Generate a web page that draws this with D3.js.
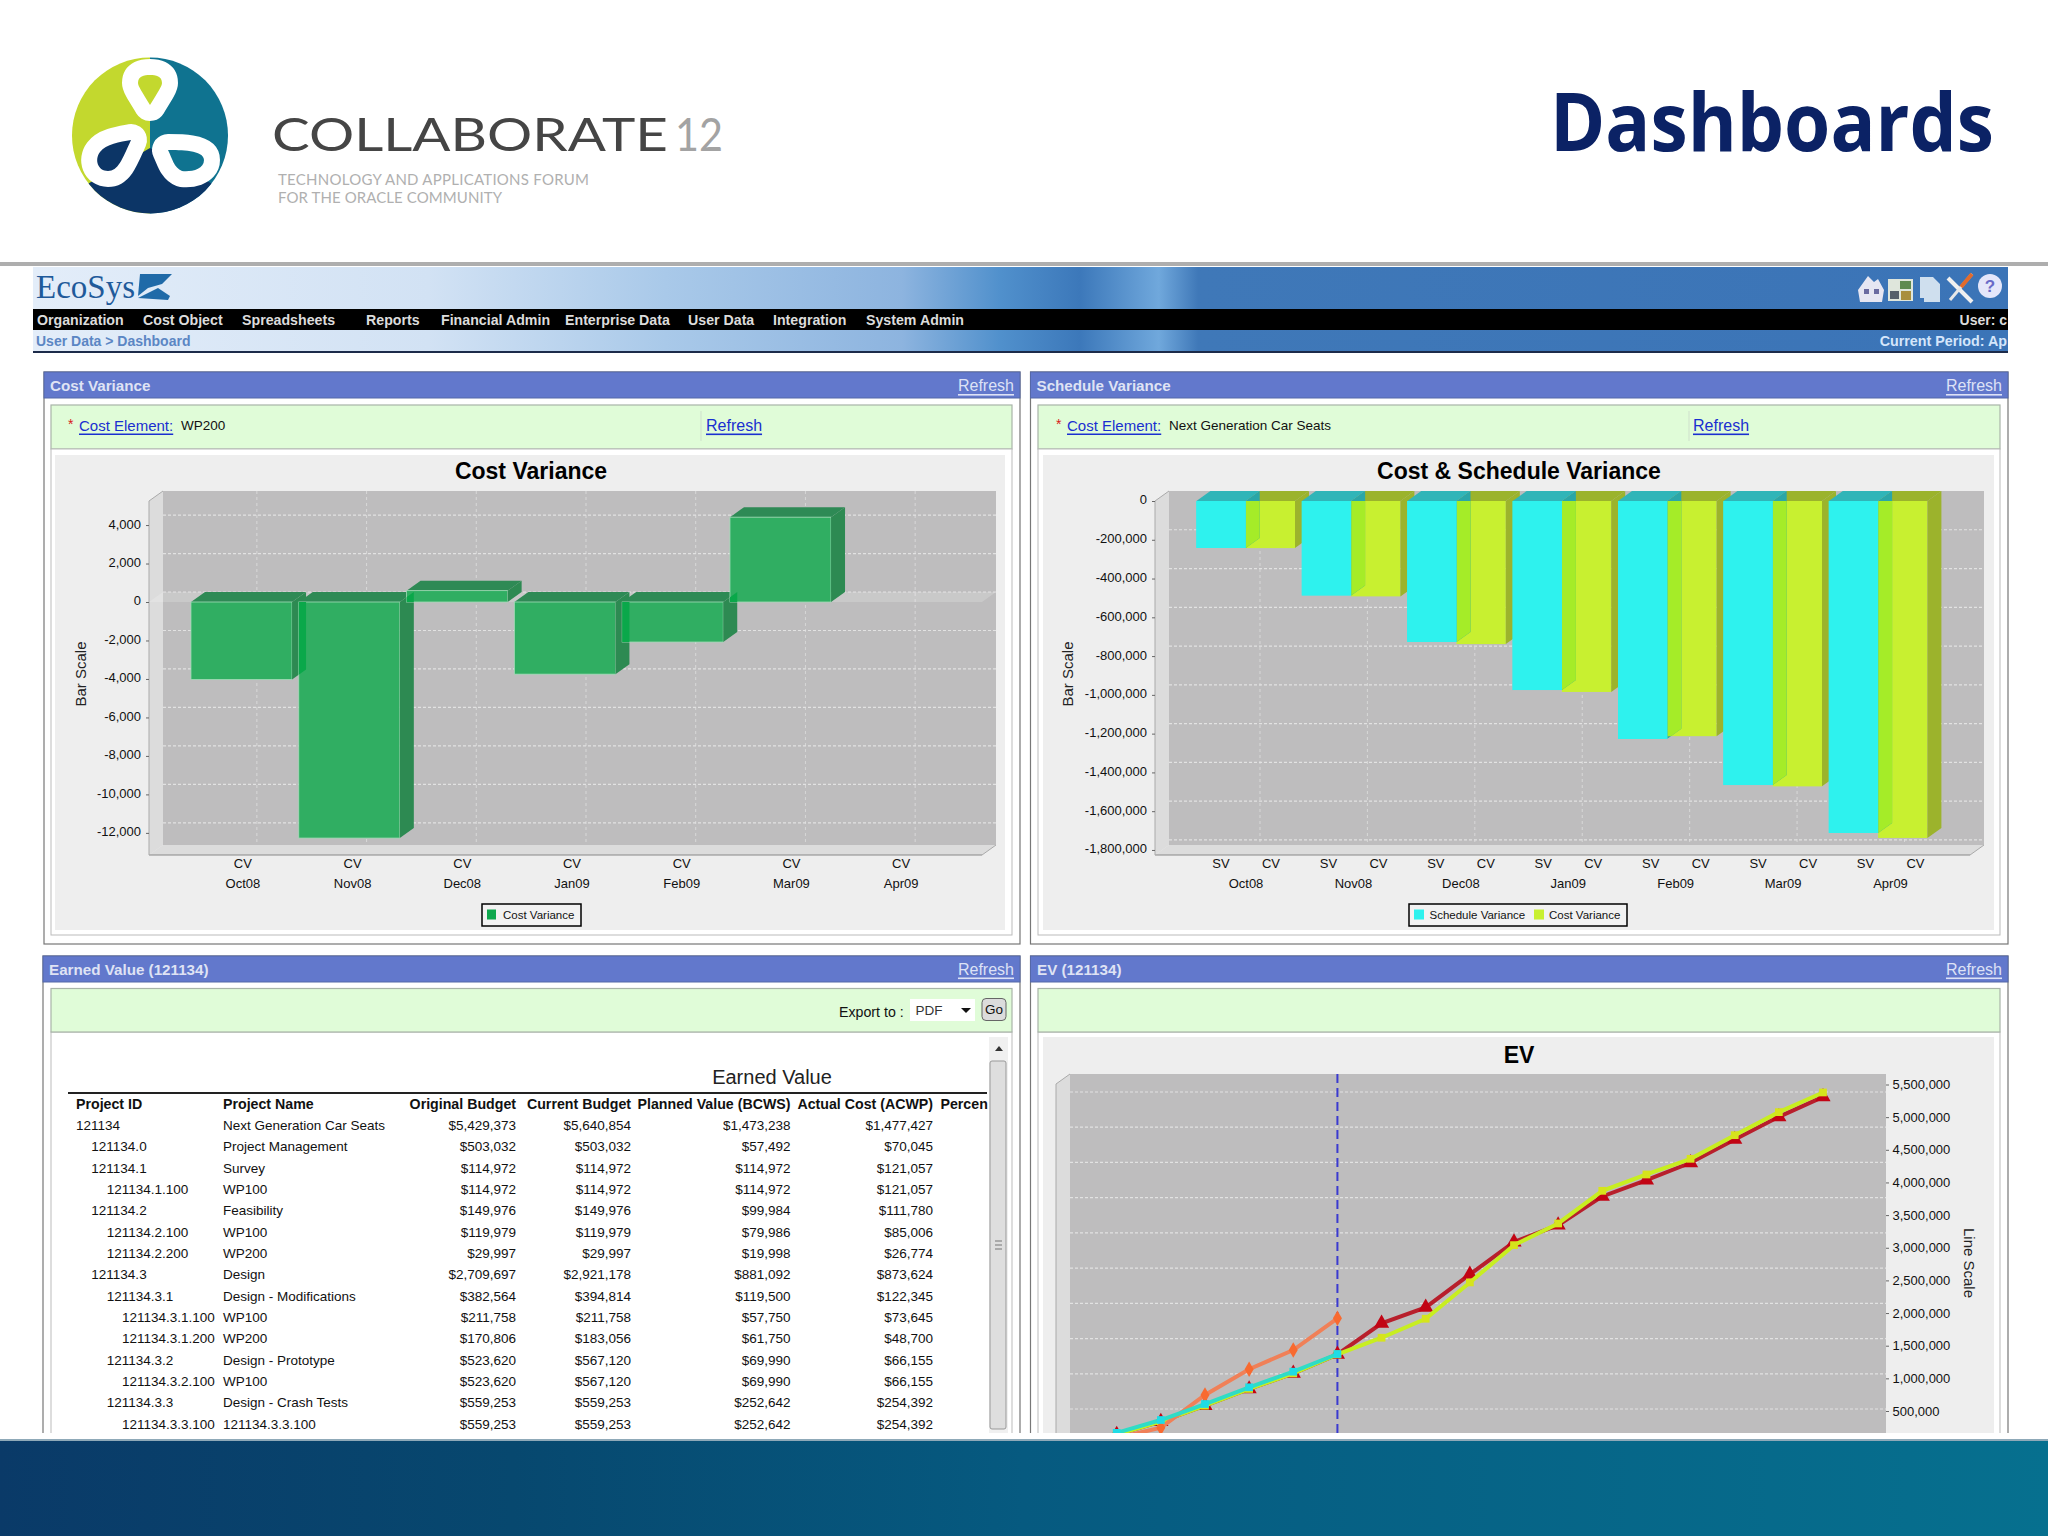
<!DOCTYPE html>
<html>
<head>
<meta charset="utf-8">
<title>Dashboards</title>
<script src="https://cdn.jsdelivr.net/npm/d3@7"></script>
<style>
  body { margin: 0; background: #fff; }
  svg { display: block; }
  text { font-family: "Liberation Sans", Arial, sans-serif; }
</style>
</head>
<body>
<svg id="page" width="2048" height="1536"></svg>
<script>
"use strict";

// DATA
const months = ["Oct08", "Nov08", "Dec08", "Jan09", "Feb09", "Mar09", "Apr09"];
const costVariance = [-4030, -12270, 590, -3750, -2080, 4410, 0];
const costTicks = [4000, 2000, 0, -2000, -4000, -6000, -8000, -10000, -12000];

const scheduleSV = [-242000, -487000, -727000, -975000, -1227000, -1465000, -1712000];
const scheduleCV = [-243000, -492000, -738000, -985000, -1213000, -1472000, -1738000];
const scheduleTicks = [0, -200000, -400000, -600000, -800000, -1000000, -1200000, -1400000, -1600000, -1800000];
const subLabels = ["SV", "CV"];

const evPeriods = ["1", "2", "3", "4", "5", "6", "7", "8", "9", "10", "11", "12", "13", "14", "15", "16", "17"];
const evYellow = [140000, 337000, 582000, 838000, 1077000, 1367000, 1622000, 1913000, 2469000, 3040000, 3372000, 3872000, 4122000, 4362000, 4724000, 5077000, 5378000];
const evRed = [140000, 337000, 582000, 838000, 1077000, 1367000, 1842000, 2087000, 2592000, 3087000, 3347000, 3786000, 4036000, 4301000, 4658000, 5005000, 5311000];
const evOrange = [87000, 244000, 745000, 1139000, 1434000, 1920000];
const evCyan = [165000, 362000, 607000, 863000, 1102000, 1373000];
const evTicks = [5500000, 5000000, 4500000, 4000000, 3500000, 3000000, 2500000, 2000000, 1500000, 1000000, 500000];
const evGridRows = [0, 1, 2, 3, 4, 5, 6, 7, 8, 9];
const currentPeriod = "6";

const tableHeaders = ["Project ID", "Project Name", "Original Budget", "Current Budget", "Planned Value (BCWS)", "Actual Cost (ACWP)", "Percen"];
const projectIds = ["121134", "121134.0", "121134.1", "121134.1.100", "121134.2", "121134.2.100", "121134.2.200", "121134.3", "121134.3.1", "121134.3.1.100", "121134.3.1.200", "121134.3.2", "121134.3.2.100", "121134.3.3", "121134.3.3.100"];
const projectLevels = [0, 1, 1, 2, 1, 2, 2, 1, 2, 3, 3, 2, 3, 2, 3];
const projectNames = ["Next Generation Car Seats", "Project Management", "Survey", "WP100", "Feasibility", "WP100", "WP200", "Design", "Design - Modifications", "WP100", "WP200", "Design - Prototype", "WP100", "Design - Crash Tests", "121134.3.3.100"];
const originalBudget = ["$5,429,373", "$503,032", "$114,972", "$114,972", "$149,976", "$119,979", "$29,997", "$2,709,697", "$382,564", "$211,758", "$170,806", "$523,620", "$523,620", "$559,253", "$559,253"];
const currentBudget = ["$5,640,854", "$503,032", "$114,972", "$114,972", "$149,976", "$119,979", "$29,997", "$2,921,178", "$394,814", "$211,758", "$183,056", "$567,120", "$567,120", "$559,253", "$559,253"];
const plannedValue = ["$1,473,238", "$57,492", "$114,972", "$114,972", "$99,984", "$79,986", "$19,998", "$881,092", "$119,500", "$57,750", "$61,750", "$69,990", "$69,990", "$252,642", "$252,642"];
const actualCost = ["$1,477,427", "$70,045", "$121,057", "$121,057", "$111,780", "$85,006", "$26,774", "$873,624", "$122,345", "$73,645", "$48,700", "$66,155", "$66,155", "$254,392", "$254,392"];

const menuItems = ["Organization", "Cost Object", "Spreadsheets", "Reports", "Financial Admin", "Enterprise Data", "User Data", "Integration", "System Admin"];
const menuX = [37, 143, 242, 366, 441, 565, 688, 773, 866];

const depth = { dx: 14, dy: 10 };
const signed = (d) => d3.format(",")(d).replace("\u2212", "-");

const svg = d3.select("#page");
const defs = svg.append("defs");

function gradient(id, stops) {
  const g = defs.append("linearGradient").attr("id", id);
  stops.forEach((s) => g.append("stop").attr("offset", s[0]).attr("stop-color", s[1]));
}
gradient("bandFill", [[0, "#e3edf9"], [0.2, "#d2e2f4"], [0.32, "#a9c9e9"], [0.44, "#8db4df"], [0.49, "#5090cc"], [0.53, "#3c78ba"], [0.57, "#70a8dc"], [0.59, "#3f78b8"], [1, "#3b74b7"]]);
gradient("footerFill", [[0, "#0a3a68"], [0.25, "#07486f"], [0.5, "#065a80"], [1, "#06708f"]]);

function txt(parent, x, y, str, opts = {}) {
  const t = parent
    .append("text")
    .attr("x", x)
    .attr("y", y)
    .attr("font-size", opts.size || 13)
    .attr("font-weight", opts.weight || "normal")
    .attr("fill", opts.fill || "#111")
    .attr("text-anchor", opts.anchor || "start")
    .attr("dominant-baseline", "central")
    .text(str);
  if (opts.underline) t.attr("text-decoration", "underline");
  return t;
}

function poly(parent, pts, fill) {
  return parent.append("polygon").attr("points", pts.map((p) => p.join(",")).join(" ")).attr("fill", fill);
}

// SLIDE HEADER
function drawLogo() {
  const g = svg.append("g");
  defs.append("clipPath").attr("id", "logoClip")
    .append("ellipse").attr("cx", 150).attr("cy", 135.5).attr("rx", 78).attr("ry", 78);
  const c = g.append("g").attr("clip-path", "url(#logoClip)");
  c.append("rect").attr("x", 60).attr("y", 50).attr("width", 90).attr("height", 170).attr("fill", "#c3d82e");
  c.append("rect").attr("x", 150).attr("y", 50).attr("width", 90).attr("height", 170).attr("fill", "#0f7390");
  poly(c, [[150, 148], [60, 200], [60, 220], [240, 220], [240, 200]], "#0c3566");
  const loop = (d) =>
    c.append("path").attr("d", d).attr("fill", "#fff").attr("stroke", "#fff").attr("stroke-width", 32).attr("stroke-linejoin", "round");
  const inner = (d, fill) => c.append("path").attr("d", d).attr("fill", fill);
  const top = "M150,105 C142,92 138,86 138,83 C138,76 144,75 150,75 C156,75 162,76 162,83 C162,86 158,92 150,105 Z";
  const left = "M131,140 C122,160 118,171 108,171 C98,171 94,160 100,152 C106,144 120,142 131,140 Z";
  const right = "M168,150 C180,150 204,150 204,160 C204,170 190,172 182,171 C174,168 172,158 168,150 Z";
  loop(top);
  loop(left);
  loop(right);
  inner(top, "#c3d82e");
  inner(left, "#0c3566");
  inner(right, "#0f7390");
  txt(g, 272, 133, "COLLABORATE", { size: 47, fill: "#454545" })
    .style("font-family", "Lato")
    .attr("textLength", 396)
    .attr("lengthAdjust", "spacingAndGlyphs");
  txt(g, 675, 133, "12", { size: 47, fill: "#a3a3a3" })
    .style("font-family", "Lato")
    .attr("textLength", 48)
    .attr("lengthAdjust", "spacingAndGlyphs");
  txt(g, 278, 179, "TECHNOLOGY AND APPLICATIONS FORUM", { size: 15, fill: "#b0b0b0" })
    .style("font-family", "Lato")
    .attr("textLength", 311);
  txt(g, 278, 197, "FOR THE ORACLE COMMUNITY", { size: 15, fill: "#b0b0b0" })
    .style("font-family", "Lato")
    .attr("textLength", 224);
}
drawLogo();

svg.append("text")
  .attr("x", 1550)
  .attr("y", 151)
  .attr("font-size", 81)
  .attr("font-weight", "bold")
  .attr("fill", "#0b2265")
  .attr("textLength", 444)
  .attr("lengthAdjust", "spacingAndGlyphs")
  .style("font-family", "'Open Sans'")
  .text("Dashboards");

svg.append("rect").attr("x", 0).attr("y", 262).attr("width", 2048).attr("height", 4).attr("fill", "#aeaeae");

// APP BANNER
const banner = svg.append("g");
banner.append("rect").attr("x", 33).attr("y", 267).attr("width", 1975).attr("height", 85).attr("fill", "url(#bandFill)");
banner.append("rect").attr("x", 33).attr("y", 309).attr("width", 1975).attr("height", 21).attr("fill", "#000");
banner.append("rect").attr("x", 33).attr("y", 351).attr("width", 1975).attr("height", 2).attr("fill", "#1c2b4a");
txt(banner, 36, 287, "EcoSys", { size: 33, fill: "#1f5a9a" }).style("font-family", "'Liberation Serif'");
poly(banner, [[140, 274], [172, 274], [162, 284], [148, 288], [138, 296]], "#1f6aa8");
poly(banner, [[138, 298], [158, 288], [170, 296], [168, 300]], "#1f6aa8");
menuItems.forEach((m, i) => txt(banner, menuX[i], 320, m, { size: 14.2, weight: "bold", fill: "#dcdcdc" }));
txt(banner, 36, 341, "User Data > Dashboard", { size: 14, weight: "bold", fill: "#5b86c4" });

// these two are cut short in the screenshot itself
txt(banner, 2007, 320, "User: c", { size: 14, weight: "bold", fill: "#dcdcdc", anchor: "end" });
txt(banner, 2007, 341, "Current Period: Ap", { size: 14.3, weight: "bold", fill: "#d4e6fb", anchor: "end" });

// toolbar icons
poly(banner, [[1858, 290], [1868, 276], [1874, 282], [1878, 279], [1884, 290], [1882, 302], [1860, 302]], "#e6e6f2");
banner.append("rect").attr("x", 1864).attr("y", 289).attr("width", 5).attr("height", 5).attr("fill", "#6a6aa0");
banner.append("rect").attr("x", 1874).attr("y", 289).attr("width", 5).attr("height", 5).attr("fill", "#6a6aa0");
banner.append("rect").attr("x", 1888).attr("y", 279).attr("width", 25).attr("height", 22).attr("fill", "#dfe6dc");
banner.append("rect").attr("x", 1900).attr("y", 281).attr("width", 11).attr("height", 8).attr("fill", "#5f8a50");
banner.append("rect").attr("x", 1901).attr("y", 291).attr("width", 10).attr("height", 9).attr("fill", "#a98f3e");
banner.append("rect").attr("x", 1890).attr("y", 291).attr("width", 9).attr("height", 8).attr("fill", "#55606a");
poly(banner, [[1920, 277], [1933, 277], [1940, 284], [1940, 302], [1924, 302], [1924, 298], [1920, 298]], "#cfdfee");
banner.append("line").attr("x1", 1948).attr("y1", 278).attr("x2", 1972).attr("y2", 302).attr("stroke", "#f0f0f0").attr("stroke-width", 4);
banner.append("line").attr("x1", 1972).attr("y1", 274).attr("x2", 1950).attr("y2", 300).attr("stroke", "#e8e8e8").attr("stroke-width", 3);
banner.append("line").attr("x1", 1972).attr("y1", 274).attr("x2", 1961).attr("y2", 287).attr("stroke", "#e26b2c").attr("stroke-width", 4);
banner.append("circle").attr("cx", 1990).attr("cy", 286).attr("r", 12).attr("fill", "#e4e6fa");
txt(banner, 1990, 286, "?", { size: 17, weight: "bold", fill: "#6a6ac8", anchor: "middle" });

// PANELS
const panelFill = "#6278cc";
const headFont = { size: 15.2, weight: "bold", fill: "#dfe3f4" };
const refreshFont = { size: 16, fill: "#dde2f6", anchor: "end", underline: true };

function drawPanel(x, y, w, h, title) {
  const g = svg.append("g");
  g.append("rect").attr("x", x).attr("y", y).attr("width", w).attr("height", h).attr("fill", "#fff").attr("stroke", "#777").attr("stroke-width", 1.2);
  g.append("rect").attr("x", x).attr("y", y).attr("width", w).attr("height", 26).attr("fill", panelFill).attr("stroke", "#5568a8");
  txt(g, x + 6, y + 13.5, title, headFont);
  txt(g, x + w - 6, y + 13.5, "Refresh", refreshFont);
  return g;
}

function drawGreenBox(g, x, y, w, h) {
  g.append("rect").attr("x", x).attr("y", y).attr("width", w).attr("height", h).attr("fill", "#e0fcd8").attr("stroke", "#a8b4a8").attr("stroke-width", 1.2);
}

function drawFilter(g, x, sepX, refreshX, value) {
  txt(g, x, 424, "*", { size: 14, fill: "#d81818" });
  txt(g, x + 11, 425, "Cost Element:", { size: 15, fill: "#1a2fd0", underline: true });
  txt(g, x + 113, 425.5, value, { size: 13.5, fill: "#111" });
  g.append("line").attr("x1", sepX).attr("x2", sepX).attr("y1", 411).attr("y2", 441).attr("stroke", "#cfe0cc");
  txt(g, refreshX, 425, "Refresh", { size: 16, fill: "#1a2fd0", underline: true });
}

// 3D back wall, floor and side wall around the plot area
function drawWalls(g, x0, x1, yTop, yBot, floor = true) {
  const { dx, dy } = depth;
  g.append("rect").attr("x", x0 + dx).attr("y", yTop).attr("width", x1 - x0 - dx).attr("height", yBot - yTop - dy).attr("fill", "#bebdbe");
  poly(g, [[x0, yTop + dy], [x0 + dx, yTop], [x0 + dx, yBot - dy], [x0, yBot]], "#dcdcdc");
  if (floor) {
    poly(g, [[x0, yBot], [x0 + dx, yBot - dy], [x1, yBot - dy], [x1 - dx, yBot]], "#dcdcdc");
    g.append("line").attr("x1", x0).attr("x2", x1 - dx).attr("y1", yBot).attr("y2", yBot).attr("stroke", "#888");
    g.append("line").attr("x1", x1 - dx).attr("x2", x1).attr("y1", yBot).attr("y2", yBot - dy).attr("stroke", "#aaa");
  }
  g.append("line").attr("x1", x0).attr("x2", x0).attr("y1", yTop + dy).attr("y2", yBot).attr("stroke", "#aaa");
  g.append("line").attr("x1", x0).attr("x2", x0 + dx).attr("y1", yTop + dy).attr("y2", yTop).attr("stroke", "#aaa");
}

function gridLines(g, xs, ys, x0, x1, yTop, yBot) {
  g.selectAll(null).data(xs).enter().append("line")
    .attr("x1", (d) => d).attr("x2", (d) => d)
    .attr("y1", yTop).attr("y2", yBot)
    .attr("stroke", "#d8d8d8").attr("stroke-dasharray", "3,3");
  g.selectAll(null).data(ys).enter().append("line")
    .attr("x1", x0).attr("x2", x1)
    .attr("y1", (d) => d).attr("y2", (d) => d)
    .attr("stroke", "#e2e2e2").attr("stroke-width", 1.2).attr("stroke-dasharray", "3,2");
}

function styleAxis(sel, lift = 1.2) {
  sel.select(".domain").remove();
  sel.selectAll("text")
    .attr("font-size", 13)
    .attr("fill", "#111")
    .attr("transform", `translate(0,${-lift})`)
    .style("font-family", "'Liberation Sans'");
  sel.selectAll(".tick line").attr("stroke", "#666");
}

function drawBar(g, x, w, yA, yB, colors) {
  const { dx, dy } = depth;
  const top = Math.min(yA, yB);
  const bot = Math.max(yA, yB);
  poly(g, [[x, top], [x + dx, top - dy], [x + w + dx, top - dy], [x + w, top]], colors.top);
  g.append("rect").attr("x", x).attr("y", top).attr("width", w).attr("height", bot - top)
    .attr("fill", colors.front).attr("stroke", colors.edge || "none").attr("stroke-width", 0.8);
  poly(g, sidePoints(x, w, top, bot), colors.side);
}

function sidePoints(x, w, top, bot) {
  const { dx, dy } = depth;
  return [[x + w, top], [x + w + dx, top - dy], [x + w + dx, bot - dy], [x + w, bot]];
}

// a side face seen through the front of the neighbouring bar
function drawOverlap(g, id, prev, next, color) {
  defs.append("clipPath").attr("id", id)
    .append("rect").attr("x", next.x).attr("y", next.top).attr("width", next.w).attr("height", next.bot - next.top);
  poly(g, sidePoints(prev.x, prev.w, prev.top, prev.bot), color).attr("clip-path", `url(#${id})`);
}

function drawLegend(g, x, y, w, h, items) {
  g.append("rect").attr("x", x).attr("y", y).attr("width", w).attr("height", h).attr("fill", "#f2f2f2").attr("stroke", "#000").attr("stroke-width", 1.5);
  items.forEach((it) => {
    g.append("rect").attr("x", it.x).attr("y", y + 5.5).attr("width", it.w).attr("height", 10).attr("fill", it.color);
    txt(g, it.tx, y + 11, it.label, { size: 11.5, fill: "#111" });
  });
}

function axisTitle(g, x, y, str, angle) {
  g.append("text")
    .attr("transform", `translate(${x},${y}) rotate(${angle})`)
    .attr("text-anchor", "middle")
    .attr("dominant-baseline", "central")
    .attr("font-size", 15)
    .attr("fill", "#222")
    .text(str);
}

// COST VARIANCE
function costChart() {
  const g = drawPanel(44, 372, 976, 572, "Cost Variance");
  drawGreenBox(g, 51, 405, 961, 44);
  drawFilter(g, 68, 701, 706, "WP200");
  g.append("rect").attr("x", 51).attr("y", 449).attr("width", 961).attr("height", 486).attr("fill", "#fff").attr("stroke", "#bbb");
  g.append("rect").attr("x", 55).attr("y", 455).attr("width", 950).attr("height", 475).attr("fill", "#eeeeee");
  txt(g, 531, 471, "Cost Variance", { size: 23, weight: "bold", fill: "#000", anchor: "middle" });

  const x0 = 149, x1 = 996, yTop = 491, yBot = 855;
  const yScale = d3.scaleLinear().domain([-13150, 5250]).range([yBot, yTop + depth.dy]);
  const xLabel = d3.scaleBand().domain(months).range([188, 956]);
  const xBar = d3.scaleBand().domain(months).range([187.6, 942.2]).paddingInner(0.0625).paddingOuter(0.03125);

  drawWalls(g, x0, x1, yTop, yBot);
  gridLines(g, months.map((m) => xLabel(m) + xLabel.bandwidth() / 2 + depth.dx), costTicks.map((t) => yScale(t) - depth.dy), x0 + depth.dx, x1, yTop, yBot - depth.dy);
  poly(g, [[x0, yScale(0)], [x0 + depth.dx, yScale(0) - depth.dy], [x1, yScale(0) - depth.dy], [x1 - depth.dx, yScale(0)]], "#fff").attr("opacity", 0.18);

  const colors = { front: "#30ae62", side: "#2d8a52", top: "#2e8a55", edge: "#a4dcb8" };
  const bars = months
    .map((m, i) => ({ m, v: costVariance[i] }))
    .filter((d) => d.v !== 0)
    .map((d) => ({
      x: xBar(d.m),
      w: xBar.bandwidth(),
      top: Math.min(yScale(d.v), yScale(0)),
      bot: Math.max(yScale(d.v), yScale(0)),
    }));
  const barG = g.append("g");
  bars.forEach((b) => drawBar(barG, b.x, b.w, b.top, b.bot, colors));
  bars.forEach((b, i) => {
    if (i > 0) drawOverlap(barG, `costOverlap${i}`, bars[i - 1], b, "#0aa84a");
  });

  g.append("g")
    .attr("transform", `translate(${x0},0)`)
    .call(d3.axisLeft(yScale).tickValues(costTicks).tickFormat(signed).tickSize(3).tickPadding(5))
    .call(styleAxis);
  g.append("g")
    .attr("transform", `translate(0,${yBot})`)
    .call(d3.axisBottom(xLabel).tickFormat(() => "CV").tickSize(0).tickPadding(4.5))
    .call(styleAxis);
  g.append("g")
    .attr("transform", `translate(0,${yBot})`)
    .call(d3.axisBottom(xLabel).tickSize(0).tickPadding(24.5))
    .call(styleAxis);

  axisTitle(g, 80, 674, "Bar Scale", -90);
  drawLegend(g, 482, 904, 99, 22, [{ x: 487, w: 9, color: "#0fa84e", tx: 503, label: "Cost Variance" }]);
}
costChart();

// SCHEDULE VARIANCE
function scheduleChart() {
  const g = drawPanel(1030.5, 372, 977.5, 572, "Schedule Variance");
  drawGreenBox(g, 1038, 405, 962, 44);
  drawFilter(g, 1056, 1689, 1693, "Next Generation Car Seats");
  g.append("rect").attr("x", 1038).attr("y", 449).attr("width", 962).attr("height", 486).attr("fill", "#fff").attr("stroke", "#bbb");
  g.append("rect").attr("x", 1043).attr("y", 455).attr("width", 951).attr("height", 475).attr("fill", "#eeeeee");
  txt(g, 1519, 471, "Cost & Schedule Variance", { size: 23, weight: "bold", fill: "#000", anchor: "middle" });

  const x0 = 1155, x1 = 1984, yTop = 491, yBot = 855;
  const yScale = d3.scaleLinear().domain([-1826000, 0]).range([yBot, yTop + depth.dy]);
  const xLabel = d3.scaleBand().domain(months).range([1192.3, 1944.2]);
  const xGroup = d3.scaleBand().domain(months).range([1193, 1930.8]).paddingInner(0.0645).paddingOuter(0.03225);
  const xSub = d3.scaleBand().domain(subLabels).range([0, xGroup.bandwidth()]);
  const xSubLabel = d3.scaleBand().domain(subLabels).range([-50, 50]);

  drawWalls(g, x0, x1, yTop, yBot);
  gridLines(g, months.map((m) => xLabel(m) + xLabel.bandwidth() / 2 + depth.dx), scheduleTicks.slice(1).map((t) => yScale(t) - depth.dy), x0 + depth.dx, x1, yTop, yBot - depth.dy);

  const svColors = { front: "#2ef2ee", side: "#2aa6a8", top: "#30b5b8" };
  const cvColors = { front: "#c8f030", side: "#9cb32c", top: "#9bb32c" };
  const barG = g.append("g");
  months.forEach((m, i) => {
    const sv = { x: xGroup(m) + xSub("SV"), w: xSub.bandwidth(), top: yScale(0), bot: yScale(scheduleSV[i]) };
    const cv = { x: xGroup(m) + xSub("CV"), w: xSub.bandwidth(), top: yScale(0), bot: yScale(scheduleCV[i]) };
    drawBar(barG, cv.x, cv.w, cv.top, cv.bot, cvColors);
    drawBar(barG, sv.x, sv.w, sv.top, sv.bot, svColors);
    drawOverlap(barG, `schedOverlap${i}`, sv, cv, "#a5ec28");
  });
  // the cyan fronts sit over the side of the previous month
  months.forEach((m, i) => {
    barG.append("rect")
      .attr("x", xGroup(m) + xSub("SV"))
      .attr("y", yScale(0))
      .attr("width", xSub.bandwidth())
      .attr("height", yScale(scheduleSV[i]) - yScale(0))
      .attr("fill", svColors.front);
  });

  g.append("g")
    .attr("transform", `translate(${x0},0)`)
    .call(d3.axisLeft(yScale).tickValues(scheduleTicks).tickFormat(signed).tickSize(3).tickPadding(5))
    .call(styleAxis);
  months.forEach((m) => {
    g.append("g")
      .attr("transform", `translate(${xLabel(m) + xLabel.bandwidth() / 2},${yBot})`)
      .call(d3.axisBottom(xSubLabel).tickSize(0).tickPadding(4.5))
      .call(styleAxis);
  });
  g.append("g")
    .attr("transform", `translate(0,${yBot})`)
    .call(d3.axisBottom(xLabel).tickSize(0).tickPadding(24.5))
    .call(styleAxis);

  axisTitle(g, 1067, 674, "Bar Scale", -90);
  drawLegend(g, 1409, 904, 218, 22, [
    { x: 1414, w: 10, color: "#2ef2ee", tx: 1429.5, label: "Schedule Variance" },
    { x: 1534, w: 10, color: "#c8f030", tx: 1549, label: "Cost Variance" },
  ]);
}
scheduleChart();

// LOWER ROW, cut off by the slide footer
defs.append("clipPath").attr("id", "lowerClip")
  .append("rect").attr("x", 0).attr("y", 950).attr("width", 2048).attr("height", 483);

// EARNED VALUE TABLE
function earnedValueTable() {
  const root = svg.append("g").attr("clip-path", "url(#lowerClip)");
  const g = root.append("g");
  g.append("rect").attr("x", 43).attr("y", 956).attr("width", 977).attr("height", 600).attr("fill", "#fff").attr("stroke", "#777").attr("stroke-width", 1.2);
  g.append("rect").attr("x", 43).attr("y", 956).attr("width", 977).attr("height", 26).attr("fill", panelFill).attr("stroke", "#5568a8");
  txt(g, 49, 969, "Earned Value (121134)", headFont);
  txt(g, 1014, 969, "Refresh", refreshFont);
  g.append("rect").attr("x", 51).attr("y", 1032).attr("width", 961).attr("height", 500).attr("fill", "#fff").attr("stroke", "#bbb");
  drawGreenBox(g, 51, 988.5, 961, 43.5);
  txt(g, 839, 1012, "Export to :", { size: 14.2 });
  g.append("rect").attr("x", 910).attr("y", 999).attr("width", 65).attr("height", 22).attr("fill", "#fff");
  txt(g, 915.5, 1010, "PDF", { size: 13.5, fill: "#333" });
  poly(g, [[961, 1008], [971, 1008], [966, 1013]], "#111");
  g.append("rect").attr("x", 982).attr("y", 998.5).attr("width", 24).attr("height", 22).attr("rx", 4).attr("fill", "#dcdcdc").attr("stroke", "#666");
  txt(g, 994, 1009.5, "Go", { size: 13.5, fill: "#111", anchor: "middle" });

  txt(g, 772, 1077, "Earned Value", { size: 20, fill: "#222", anchor: "middle" });
  g.append("rect").attr("x", 68).attr("y", 1092).attr("width", 919).attr("height", 2).attr("fill", "#222");

  const table = g.append("g");
  const yRow = d3.scaleLinear().domain([0, 1]).range([1125.5, 1146.83]);
  const indent = d3.scaleLinear().domain([0, 3]).range([76, 122]);
  const rightCols = [
    { x: 516, values: originalBudget },
    { x: 631, values: currentBudget },
    { x: 790.5, values: plannedValue },
    { x: 933, values: actualCost },
  ];
  const colHead = { size: 14.2, weight: "bold", fill: "#111" };
  txt(table, 76, 1104, tableHeaders[0], colHead);
  txt(table, 223, 1104, tableHeaders[1], colHead);
  rightCols.forEach((c, i) => txt(table, c.x, 1104, tableHeaders[i + 2], { ...colHead, anchor: "end" }));
  txt(table, 940.5, 1104, tableHeaders[6], colHead);

  projectIds.forEach((id, i) => {
    const y = yRow(i);
    txt(table, indent(projectLevels[i]), y, id, { size: 13.5 });
    txt(table, 223, y, projectNames[i], { size: 13.5 });
    rightCols.forEach((c) => txt(table, c.x, y, c.values[i], { size: 13.5, anchor: "end" }));
  });

  // scrollbar
  g.append("rect").attr("x", 989).attr("y", 1037).attr("width", 19).attr("height", 400).attr("fill", "#f0f0f0");
  poly(g, [[995, 1051], [1003, 1051], [999, 1046]], "#333");
  g.append("rect").attr("x", 990).attr("y", 1061).attr("width", 16).attr("height", 368).attr("rx", 2).attr("fill", "#dedede").attr("stroke", "#999");
  [1241, 1245, 1249].forEach((y) => g.append("line").attr("x1", 995).attr("x2", 1002).attr("y1", y).attr("y2", y).attr("stroke", "#777"));
}
earnedValueTable();

// EV LINE CHART
function evChart() {
  const root = svg.append("g").attr("clip-path", "url(#lowerClip)");
  const g = root.append("g");
  g.append("rect").attr("x", 1030.5).attr("y", 956).attr("width", 977.5).attr("height", 600).attr("fill", "#fff").attr("stroke", "#777").attr("stroke-width", 1.2);
  g.append("rect").attr("x", 1030.5).attr("y", 956).attr("width", 977.5).attr("height", 26).attr("fill", panelFill).attr("stroke", "#5568a8");
  txt(g, 1037, 969, "EV (121134)", headFont);
  txt(g, 2002, 969, "Refresh", refreshFont);
  g.append("rect").attr("x", 1038).attr("y", 1032).attr("width", 962).attr("height", 500).attr("fill", "#fff").attr("stroke", "#bbb");
  drawGreenBox(g, 1038, 988.5, 962, 43.5);
  g.append("rect").attr("x", 1043).attr("y", 1037).attr("width", 951).attr("height", 420).attr("fill", "#eeeeee");
  txt(g, 1519, 1055, "EV", { size: 23, weight: "bold", fill: "#000", anchor: "middle" });

  const x0 = 1056, x1 = 1886, yTop = 1074, yBot = 1470;
  drawWalls(g, x0, x1, yTop, yBot, false);

  const gridY = d3.scaleLinear().domain([0, 9]).range([1092, 1409]);
  gridLines(g, [], evGridRows.map((d) => gridY(d)), x0 + depth.dx, x1, yTop, yBot);

  const xScale = d3.scalePoint().domain(evPeriods).range([1116.7, 1823]);
  const yScale = d3.scaleLinear().domain([500000, 5500000]).range([1411, 1084.5]);

  g.append("line")
    .attr("x1", xScale(currentPeriod)).attr("x2", xScale(currentPeriod))
    .attr("y1", yTop).attr("y2", yBot)
    .attr("stroke", "#3a3ad0").attr("stroke-width", 2).attr("stroke-dasharray", "9,5");

  const line = d3.line().x((d) => xScale(d.p)).y((d) => yScale(d.v));
  const series = [
    { values: evRed, line: "#b81f2c", marker: "#c20414", symbol: d3.symbolTriangle, size: 100 },
    { values: evYellow, line: "#c8ee20", marker: "#d6e41c", symbol: d3.symbolSquare, size: 60 },
    { values: evOrange, line: "#f08058", marker: "#f86a30", symbol: d3.symbolDiamond, size: 70 },
    { values: evCyan, line: "#2fdcc6", marker: "#1fdce6", symbol: d3.symbolSquare, size: 60 },
  ];
  series.forEach((s) => {
    const pts = s.values.map((v, i) => ({ p: evPeriods[i], v }));
    g.append("path").datum(pts).attr("d", line).attr("fill", "none").attr("stroke", s.line).attr("stroke-width", 4);
    g.selectAll(null).data(pts).enter().append("path")
      .attr("d", d3.symbol().type(s.symbol).size(s.size))
      .attr("transform", (d) => `translate(${xScale(d.p)},${yScale(d.v)})`)
      .attr("fill", s.marker);
  });

  g.append("g")
    .attr("transform", `translate(${x1},0)`)
    .call(d3.axisRight(yScale).tickValues(evTicks).tickFormat(d3.format(",")).tickSize(3).tickPadding(3.5))
    .call((sel) => styleAxis(sel, 0));
  axisTitle(g, 1969, 1263, "Line Scale", 90);
}
evChart();

// FOOTER
svg.append("rect").attr("x", 0).attr("y", 1440).attr("width", 2048).attr("height", 96).attr("fill", "url(#footerFill)");
svg.append("rect").attr("x", 0).attr("y", 1439).attr("width", 2048).attr("height", 2).attr("fill", "#8fa9b8");
</script>
</body>
</html>
